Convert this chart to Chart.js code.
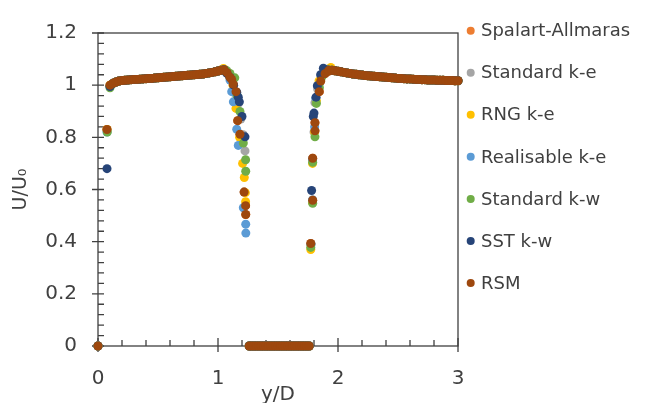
<!DOCTYPE html>
<html><head><meta charset="utf-8">
<script src="https://cdn.jsdelivr.net/npm/chart.js@4/dist/chart.umd.min.js"></script>
<style>html,body{margin:0;padding:0;background:#fff}#wrap{width:645px;height:403px;position:relative}</style>
</head><body><div id="wrap"><canvas id="c"></canvas></div>
<script>
// ---------- DATA ----------
const seriesNames = ['Spalart-Allmaras','Standard k-e','RNG k-e','Realisable k-e','Standard k-w','SST k-w','RSM'];

const xTickValues = [0, 1, 2, 3];
const xTickLabels = ['0', '1', '2', '3'];
const yTickValues = [0, 0.2, 0.4, 0.6, 0.8, 1.0, 1.2];
const yTickLabels = ['0', '0.2', '0.4', '0.6', '0.8', '1', '1.2'];

// flat band left of the cylinder (shared by all models)
const bandLeftX = [0.125,0.15,0.175,0.2,0.225,0.25,0.275,0.3,0.325,0.35,0.375,0.4,0.425,0.45,0.475,0.5,0.525,0.55,0.575,0.6,0.625,0.65,0.675,0.7,0.725,0.75,0.775,0.8,0.825,0.85,0.875,0.9,0.925,0.95,0.975,1.0,1.025,1.05];
const bandLeftY = [1.007,1.012,1.016,1.018,1.019,1.020,1.021,1.022,1.022,1.023,1.024,1.025,1.026,1.026,1.027,1.028,1.029,1.030,1.031,1.032,1.033,1.034,1.035,1.036,1.037,1.038,1.039,1.040,1.041,1.042,1.043,1.045,1.047,1.049,1.051,1.054,1.057,1.059];

// inside the cylinder (U = 0)
const wallZeroX = [1.26,1.28,1.30,1.32,1.34,1.36,1.38,1.40,1.42,1.44,1.46,1.48,1.50,1.52,1.54,1.56,1.58,1.60,1.62,1.64,1.66,1.68,1.70,1.72,1.74,1.76];

// flat band right of the cylinder (shared by all models)
const bandRightX = [1.925,1.95,1.975,2.0,2.025,2.05,2.075,2.1,2.125,2.15,2.175,2.2,2.225,2.25,2.275,2.3,2.325,2.35,2.375,2.4,2.425,2.45,2.475,2.5,2.525,2.55,2.575,2.6,2.625,2.65,2.675,2.7,2.725,2.75,2.775,2.8,2.825,2.85,2.875,2.9,2.925,2.95,2.975,3.0];
const bandRightY = [1.057,1.057,1.055,1.053,1.051,1.049,1.047,1.045,1.043,1.042,1.040,1.039,1.037,1.036,1.035,1.034,1.033,1.032,1.031,1.030,1.029,1.028,1.027,1.026,1.026,1.025,1.024,1.024,1.023,1.022,1.022,1.021,1.021,1.020,1.020,1.020,1.019,1.019,1.019,1.018,1.018,1.018,1.017,1.017];

// model-specific points (wall region and near-wall gradients), [y/D, U/U0]
const saPts   = [[0,0],[0.075,0.83],[0.1,1.0],[1.075,1.048],[1.1,1.03],[1.114,1.022],[1.127,1.004],[1.15,0.975],[1.164,0.864],[1.183,0.812],[1.218,0.59],[1.23,0.538],[1.231,0.504],
                 [1.773,0.393],[1.789,0.559],[1.789,0.72],[1.808,0.825],[1.808,0.856],[1.844,0.975],[1.856,1.016],[1.892,1.044],[1.919,1.053]];
const kePts   = [[0,0],[0.075,0.83],[0.1,1.0],[1.075,1.045],[1.1,1.03],[1.128,1.0],[1.15,0.965],[1.17,0.93],[1.19,0.87],[1.21,0.81],[1.225,0.748],[1.218,0.59],
                 [1.775,0.39],[1.788,0.56],[1.788,0.715],[1.8,0.82],[1.808,0.933],[1.83,0.985],[1.855,1.02],[1.89,1.045],[1.92,1.055]];
const rngPts  = [[0,0],[0.075,0.83],[0.1,1.0],[1.045,1.064],[1.075,1.05],[1.1,1.03],[1.125,1.0],[1.15,0.911],[1.18,0.8],[1.205,0.7],[1.219,0.646],[1.228,0.588],[1.23,0.553],
                 [1.773,0.37],[1.788,0.55],[1.788,0.70],[1.805,0.82],[1.82,0.94],[1.842,1.016],[1.88,1.05],[1.94,1.068]];
const realPts = [[0,0],[0.075,0.82],[0.1,0.995],[1.075,1.045],[1.1,1.02],[1.114,0.975],[1.128,0.936],[1.156,0.831],[1.169,0.769],[1.211,0.53],[1.231,0.467],[1.232,0.433],
                 [1.775,0.39],[1.788,0.56],[1.788,0.715],[1.805,0.84],[1.815,0.95],[1.84,1.0],[1.87,1.04],[1.91,1.055]];
const kwPts   = [[0,0],[0.077,0.82],[0.1,0.99],[1.075,1.055],[1.1,1.045],[1.14,1.028],[1.16,0.96],[1.183,0.899],[1.211,0.778],[1.23,0.714],[1.231,0.67],
                 [1.773,0.378],[1.789,0.547],[1.789,0.704],[1.808,0.802],[1.82,0.93],[1.845,0.99],[1.87,1.035],[1.91,1.058]];
const sstPts  = [[0,0],[0.075,0.68],[0.1,0.995],[1.075,1.045],[1.1,1.03],[1.13,1.0],[1.156,0.973],[1.169,0.954],[1.178,0.936],[1.2,0.88],[1.225,0.802],
                 [1.78,0.596],[1.794,0.88],[1.8,0.893],[1.817,0.954],[1.828,0.998],[1.855,1.04],[1.878,1.065],[1.91,1.058]];
const rsmPts  = [[0,0],[0.075,0.83],[0.1,1.0],[1.075,1.048],[1.1,1.03],[1.114,1.022],[1.127,1.004],[1.15,0.975],[1.164,0.864],[1.183,0.812],[1.218,0.59],[1.23,0.538],[1.231,0.504],
                 [1.773,0.393],[1.789,0.559],[1.789,0.72],[1.808,0.825],[1.808,0.856],[1.844,0.975],[1.856,1.016],[1.892,1.044],[1.919,1.053]];

// ---------- STYLE ----------
const seriesColors = ['#ED7D31','#A5A5A5','#FFC000','#5B9BD5','#70AD47','#264478','#9E480E'];
const FONT = 'DejaVu Sans';
const AXIS = '#404040';
const TEXT = '#404040';

function buildSeries(own) {
  return own.map(([x, y]) => ({x, y}))
    .concat(bandLeftX.map((x, i) => ({x, y: bandLeftY[i]})))
    .concat(wallZeroX.map(x => ({x, y: 0})))
    .concat(bandRightX.map((x, i) => ({x, y: bandRightY[i]})));
}
const allPts = [saPts, kePts, rngPts, realPts, kwPts, sstPts, rsmPts];

const datasets = seriesNames.map((name, i) => ({
  label: name,
  data: buildSeries(allPts[i]),
  backgroundColor: seriesColors[i],
  borderColor: seriesColors[i],
  pointRadius: 4.5,
  pointBorderWidth: 0,
  pointHoverRadius: 4.5,
  clip: false,
  order: seriesNames.length - 1 - i
}));

const framePlugin = {
  id: 'frame',
  beforeDatasetsDraw(chart) {
    const {ctx, chartArea: a, scales: {x, y}} = chart;
    ctx.save();
    ctx.strokeStyle = AXIS;
    ctx.lineWidth = 1.3;
    ctx.strokeRect(a.left, a.top, a.right - a.left, a.bottom - a.top);
    ctx.beginPath();
    // y ticks: major every 0.2 (crossing), minor every 0.04 (inside)
    for (let i = 0; i <= 30; i++) {
      const p = y.getPixelForValue(i * 0.04);
      if (i % 5 === 0) { ctx.moveTo(a.left - 6, p); ctx.lineTo(a.left + 6, p); }
      else { ctx.moveTo(a.left, p); ctx.lineTo(a.left + 6, p); }
    }
    // x ticks: major every 1 (crossing), minor every 0.2 (inside)
    for (let i = 0; i <= 15; i++) {
      const p = x.getPixelForValue(i * 0.2);
      if (i % 5 === 0) { ctx.moveTo(p, a.bottom - 8); ctx.lineTo(p, a.bottom + 6); }
      else { ctx.moveTo(p, a.bottom - 6); ctx.lineTo(p, a.bottom); }
    }
    ctx.stroke();
    ctx.restore();
  },
  afterDraw(chart) {
    const {ctx} = chart;
    ctx.save();
    ctx.font = '18px "' + FONT + '"';
    ctx.textBaseline = 'middle';
    ctx.textAlign = 'left';
    chart.data.datasets.forEach((ds, i) => {
      const cy = 30.7 + i * 42.05;
      ctx.fillStyle = ds.backgroundColor;
      ctx.beginPath();
      ctx.arc(470.7, cy, 4, 0, Math.PI * 2);
      ctx.fill();
      ctx.fillStyle = TEXT;
      ctx.fillText(ds.label, 481, cy + 1);
    });
    ctx.restore();
  }
};

new Chart(document.getElementById('c'), {
  type: 'scatter',
  data: {datasets},
  options: {
    responsive: true,
    maintainAspectRatio: false,
    animation: false,
    events: [],
    layout: {padding: {left: 0, right: 187, top: 22, bottom: 0}},
    plugins: {legend: {display: false}, tooltip: {enabled: false}},
    scales: {
      x: {
        type: 'linear', min: 0, max: 3,
        afterBuildTicks: s => { s.ticks = xTickValues.map(v => ({value: v})); },
        afterFit: s => { s.height = 57; },
        ticks: {callback: (v, i) => xTickLabels[i], padding: 21, color: TEXT, font: {family: FONT, size: 20}, maxRotation: 0, autoSkip: false},
        grid: {display: false, drawTicks: false},
        border: {display: false},
        title: {display: true, text: 'y/D', color: TEXT, font: {family: FONT, size: 20}, padding: {top: 0, bottom: -4}}
      },
      y: {
        type: 'linear', min: 0, max: 1.2,
        afterBuildTicks: s => { s.ticks = yTickValues.map(v => ({value: v})); },
        afterFit: s => { s.width = 98; },
        ticks: {callback: (v, i) => yTickLabels[i], padding: 21, color: TEXT, font: {family: FONT, size: 20}, autoSkip: false},
        grid: {display: false, drawTicks: false},
        border: {display: false},
        title: {display: true, text: 'U/U\u2080', color: TEXT, font: {family: FONT, size: 19}, padding: {top: 10, bottom: 0}}
      }
    }
  },
  plugins: [framePlugin]
});
</script></body></html>
